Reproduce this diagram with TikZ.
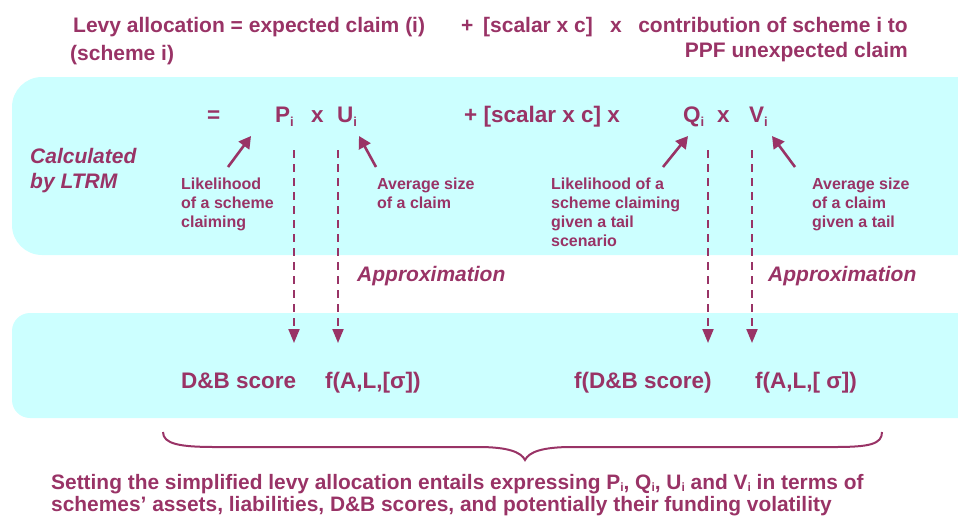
\documentclass[tikz,border=0pt]{standalone}
\usepackage{fontspec}
\setmainfont{Liberation Sans}
\usetikzlibrary{arrows.meta}
\definecolor{plum}{HTML}{993366}
\definecolor{panel}{HTML}{CCFFFF}
\newcommand{\subi}{\raisebox{-4pt}{\fontsize{13}{13}\selectfont i}}
\newcommand{\subsi}{\raisebox{-2pt}{\fontsize{12}{12}\selectfont i}}
\tikzset{
  txt/.style={text=plum, font=\bfseries\fontsize{21}{25}\selectfont, inner sep=0pt, anchor=base west},
  big/.style={txt, font=\bfseries\fontsize{22.5}{27}\selectfont},
  note/.style={text=plum, font=\bfseries\fontsize{16}{19}\selectfont, inner sep=0pt, anchor=base west, align=left},
  emph/.style={txt, font=\bfseries\itshape\fontsize{21}{25}\selectfont},
  foot/.style={text=plum, font=\bfseries\fontsize{20.9}{22}\selectfont, inner sep=0pt, anchor=base west, align=left},
  panelbox/.style={fill=panel, draw=none},
  pointer/.style={draw=plum, line width=2.6pt, -{Triangle[length=12pt,width=13pt]}},
  approx/.style={draw=plum, line width=2pt, dash pattern=on 8pt off 6pt, -{Triangle[length=14pt,width=11pt]}},
  bracket/.style={draw=plum, line width=2pt}
}
\begin{document}
\begin{tikzpicture}[x=1pt,y=-1pt]
\useasboundingbox (0,0) rectangle (958,517);
% background panels
\fill[panelbox, rounded corners=30pt] (12,77) rectangle (990,255);
\fill[panelbox, rounded corners=18pt] (12,313) rectangle (990,418);

% headline
\node[txt] (t1) at (73,32) {Levy allocation = expected claim (i)};
\node[txt] (tplus) at (461,32) {+};
\node[txt] (tsc) at (483,32) {[scalar x c]};
\node[txt] (tx) at (610,32) {x};
\node[txt, anchor=base east] (t2) at (908,32) {contribution of scheme i to};
\node[txt] (t3) at (70,60) {(scheme i)};
\node[txt, anchor=base east] (t4) at (908,57) {PPF unexpected claim};

% equation line
\node[big] (eq) at (207,122) {=};
\node[big] (P) at (275,122) {P\subi};
\node[big] (x1) at (311,122) {x};
\node[big] (U) at (337,122) {U\subi};
\node[big] (mid) at (464,122) {+ [scalar x c] x};
\node[big] (Q) at (683,122) {Q\subi};
\node[big] (x2) at (717,122) {x};
\node[big] (V) at (749,122) {V\subi};

\node[emph, align=left] (calc) at (30,188) {Calculated\\by LTRM};

% annotations (anchored on the baseline of their last line)
\node[note] (nP) at (181,227) {Likelihood\\of a scheme\\claiming};
\node[note] (nU) at (377,208) {Average size\\of a claim};
\node[note] (nQ) at (551,246) {Likelihood of a\\scheme claiming\\given a tail\\scenario};
\node[note] (nV) at (812,227) {Average size\\of a claim\\given a tail};

\coordinate (aP0) at (228,167); \coordinate (aP1) at (251,136);
\coordinate (aU0) at (376,167); \coordinate (aU1) at (359,136);
\coordinate (aQ0) at (663,167); \coordinate (aQ1) at (688,136);
\coordinate (aV0) at (795,167); \coordinate (aV1) at (772,136);
\draw[pointer] (aP0) -- (aP1);
\draw[pointer] (aU0) -- (aU1);
\draw[pointer] (aQ0) -- (aQ1);
\draw[pointer] (aV0) -- (aV1);

% approximation links
\node[emph] (ap1) at (357,281) {Approximation};
\node[emph] (ap2) at (768,281) {Approximation};
\coordinate (dP0) at (294,150); \coordinate (dP1) at (294,343);
\coordinate (dU0) at (338,150); \coordinate (dU1) at (338,343);
\coordinate (dQ0) at (708,150); \coordinate (dQ1) at (708,343);
\coordinate (dV0) at (752,150); \coordinate (dV1) at (752,343);
\draw[approx] (dP0) -- (dP1);
\draw[approx] (dU0) -- (dU1);
\draw[approx] (dQ0) -- (dQ1);
\draw[approx] (dV0) -- (dV1);

% simplified terms
\node[big] (b1) at (181,388) {D\&B score};
\node[big] (b2) at (325,388) {f(A,L,[σ])};
\node[big] (b3) at (574,388) {f(D\&B score)};
\node[big] (b4) at (755,388) {f(A,L,[ σ])};

% brace
\draw[bracket] (163,432) .. controls (163,444) and (180,447) .. (215,447) -- (478,447)
  .. controls (508,447) and (521,452) .. (525,460)
  .. controls (529,452) and (542,447) .. (572,447) -- (835,447)
  .. controls (870,447) and (882,444) .. (882,432);

\node[foot] (summary) at (51,511) {Setting the simplified levy allocation entails expressing P\subsi, Q\subsi, U\subsi\ and V\subsi\ in terms of\\schemes’ assets, liabilities, D\&B scores, and potentially their funding volatility};
\end{tikzpicture}
\end{document}
